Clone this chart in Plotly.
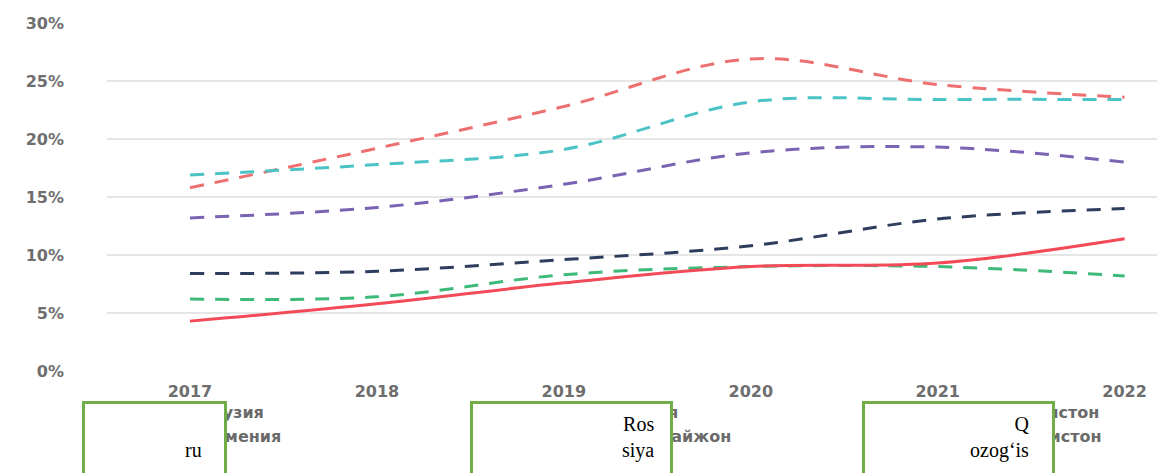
import plotly.graph_objects as go

years = [2017, 2018, 2019, 2020, 2021, 2022]

names = ["Грузия", "Армения", "Россия", "Озарбайжон", "Қозоғистон", "Ўзбекистон"]
georgia = [15.8, 19.2, 22.8, 26.9, 24.7, 23.6]
armenia = [16.9, 17.8, 19.1, 23.2, 23.4, 23.4]
russia = [13.2, 14.1, 16.1, 18.8, 19.3, 18.0]
azerbaijan = [6.2, 6.4, 8.3, 9.0, 9.0, 8.2]
kazakhstan = [8.4, 8.6, 9.6, 10.8, 13.1, 14.0]
uzbekistan = [4.3, 5.8, 7.6, 9.0, 9.3, 11.4]
series = [georgia, armenia, russia, azerbaijan, kazakhstan, uzbekistan]

colors = ["#ee6f6f", "#4cc3c6", "#7b63b3", "#3dba78", "#2e3d5e", "#f24a57"]
dashes = ["14px,11px"] * 5 + ["solid"]
legends = ["legend", "legend", "legend2", "legend2", "legend3", "legend3"]

box_texts = ["\u00a0<br>ru", "Ros<br>siya", "Q<br>ozog‘is"]

# page body has an 8px margin; work in figure pixels
W, H = 1157, 465
L, R, T, B = 99, 3, 15, 102

fig = go.Figure()
for i, (n, s) in enumerate(zip(names, series)):
    fig.add_trace(go.Scatter(
        x=years, y=s, name=n, mode="lines",
        line=dict(color=colors[i], width=3, dash=dashes[i], shape="spline"),
        legend=legends[i],
    ))

tick_font = dict(family="DejaVu Sans", size=16, color="#6e6e6e", weight="bold")
leg_font = dict(family="DejaVu Sans", size=16, color="#6a6a6a", weight="bold")

def leg(px):
    return dict(xref="container", yref="container", x=px / W, y=1 - 387 / H,
                xanchor="left", yanchor="top", orientation="v",
                font=leg_font, bgcolor="rgba(0,0,0,0)", tracegroupgap=0)

fig.update_layout(
    width=W, height=H,
    margin=dict(l=L, r=R, t=T, b=B, autoexpand=False),
    plot_bgcolor="white", paper_bgcolor="white",
    showlegend=True,
    legend=leg(153), legend2=leg(567), legend3=leg(947),
    xaxis=dict(range=[2016.556, 2022.2], tickvals=years, showgrid=False,
               zeroline=False, showline=False, tickfont=tick_font, tickangle=0,
               ticklabelstandoff=9),
    yaxis=dict(range=[0, 30], dtick=5, ticksuffix="%", gridcolor="#e6e6e6",
               gridwidth=1.5, zeroline=False, showline=False,
               tickfont=tick_font, ticklabelstandoff=42),
)

pw = W - L - R
ph = H - T - B
boxes = [(74, 219), (462, 665), (854, 1047)]
text_right = [195, 647, 1022]
for (x0, x1), xr, txt in zip(boxes, text_right, box_texts):
    fig.add_annotation(xref="paper", yref="paper", x=(x0 - L) / pw,
                       y=(H - B - 393) / ph,
                       xanchor="left", yanchor="top", text=" ",
                       width=x1 - x0 - 6, height=90, showarrow=False,
                       bgcolor="white", bordercolor="#70ad47", borderwidth=3,
                       borderpad=0)
    fig.add_annotation(xref="paper", yref="paper", x=(xr - L) / pw,
                       y=(H - B - 404) / ph,
                       xanchor="right", yanchor="top", text=txt, align="right",
                       showarrow=False, borderpad=0,
                       font=dict(family="Liberation Serif", size=20, color="black"))

fig.write_html("out.html")
